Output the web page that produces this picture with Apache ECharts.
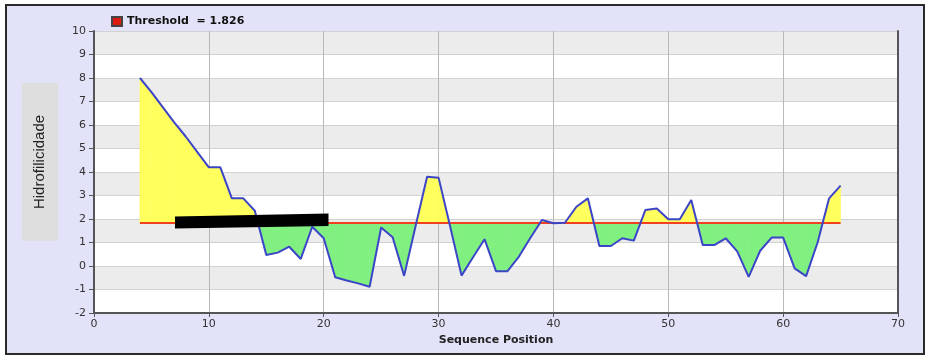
<!DOCTYPE html>
<html>
<head>
<meta charset="utf-8">
<script src="https://cdn.jsdelivr.net/npm/echarts@6/dist/echarts.min.js"></script>
<style>
  html, body { margin: 0; padding: 0; background: #ffffff; }
  #chart { width: 927px; height: 358px; }
</style>
</head>
<body>
<div id="chart"></div>
<script>
// Sequence positions and hydrophilicity profile
const positions = [4,5,6,7,8,9,10,11,12,13,14,15,16,17,18,19,20,21,22,23,24,25,26,27,28,29,30,31,32,33,34,35,36,37,38,39,40,41,42,43,44,45,46,47,48,49,50,51,52,53,54,55,56,57,58,59,60,61,62,63,64,65];
const hydrophilicity = [8.0,7.4,6.75,6.1,5.5,4.85,4.2,4.2,2.88,2.88,2.35,0.47,0.57,0.82,0.30,1.67,1.18,-0.48,-0.62,-0.74,-0.88,1.64,1.22,-0.42,1.7,3.8,3.76,1.7,-0.41,0.37,1.14,-0.22,-0.22,0.4,1.2,1.96,1.82,1.84,2.52,2.88,0.85,0.85,1.18,1.08,2.38,2.45,1.99,1.99,2.81,0.89,0.89,1.18,0.62,-0.46,0.65,1.21,1.21,-0.1,-0.43,1.0,2.88,3.42];
const threshold = 1.826;
const thresholdName = 'Threshold  = 1.826';
const xTicks = [0, 10, 20, 30, 40, 50, 60, 70];
const yTicks = [-2, -1, 0, 1, 2, 3, 4, 5, 6, 7, 8, 9, 10];

const ABOVE_COLOR = '#ffff5e';
const BELOW_COLOR = '#80f080';

const profile = positions.map((p, i) => [p, hydrophilicity[i]]);
const thresholdLine = [[positions[0], threshold], [positions[positions.length - 1], threshold]];
// one item per segment of the profile: [x0, y0, x1, y1]
const segments = positions.slice(1).map((p, i) => [positions[i], hydrophilicity[i], p, hydrophilicity[i + 1]]);

// fill between a profile segment and the threshold, yellow above and green below
function renderSegmentFill(params, api) {
  const x0 = api.value(0), y0 = api.value(1), x1 = api.value(2), y1 = api.value(3);
  const polys = [];
  const pushPoly = (pts, above) => {
    polys.push({
      type: 'polygon',
      shape: { points: pts.map(p => api.coord(p)) },
      style: { fill: above ? ABOVE_COLOR : BELOW_COLOR, stroke: above ? ABOVE_COLOR : BELOW_COLOR, lineWidth: 0.6 }
    });
  };
  const a0 = y0 >= threshold, a1 = y1 >= threshold;
  if (a0 === a1) {
    pushPoly([[x0, threshold], [x0, y0], [x1, y1], [x1, threshold]], a0);
  } else {
    const xc = x0 + (threshold - y0) * (x1 - x0) / (y1 - y0);
    pushPoly([[x0, threshold], [x0, y0], [xc, threshold]], a0);
    pushPoly([[xc, threshold], [x1, y1], [x1, threshold]], a1);
  }
  return { type: 'group', children: polys };
}

const chart = echarts.init(document.getElementById('chart'), null, { renderer: 'canvas' });

const labelFont = { color: '#333', fontFamily: 'DejaVu Sans', fontSize: 11 };

chart.setOption({
  backgroundColor: '#ffffff',
  animation: false,
  graphic: [
    {
      type: 'rect', z: -10, silent: true,
      shape: { x: 6, y: 5, width: 918, height: 349 },
      style: { fill: '#e2e2f8', stroke: '#2a2a2a', lineWidth: 2 }
    },
    {
      type: 'rect', z: 1, silent: true,
      shape: { x: 22, y: 83, width: 36, height: 158 },
      style: { fill: '#dedede' }
    },
    {
      type: 'text', z: 2, silent: true,
      x: 40, y: 162, rotation: Math.PI / 2,
      style: {
        text: 'Hidrofilicidade', fill: '#222',
        font: '15px "Liberation Sans"',
        align: 'center', verticalAlign: 'middle'
      }
    },
    {
      // redaction bar over the threshold
      type: 'polygon', z: 50, silent: true,
      shape: { points: [[175, 216.5], [328.5, 213.5], [328.5, 226], [175, 228.5]] },
      style: { fill: '#000000' }
    }
  ],
  legend: {
    data: [thresholdName],
    left: 106, top: 11,
    icon: 'rect', itemWidth: 10, itemHeight: 9, itemGap: 6,
    textStyle: { color: '#111', fontFamily: 'DejaVu Sans', fontSize: 11, fontWeight: 'bold' }
  },
  grid: { left: 94, right: 29, top: 31, bottom: 45, show: true, backgroundColor: '#ffffff', borderWidth: 0 },
  xAxis: {
    type: 'value', min: xTicks[0], max: xTicks[xTicks.length - 1], interval: 10,
    name: 'Sequence Position', nameLocation: 'middle', nameGap: 22,
    nameTextStyle: { color: '#222', fontFamily: 'DejaVu Sans', fontSize: 11, fontWeight: 'bold' },
    axisLine: { show: true, onZero: false, lineStyle: { color: '#555', width: 2 } },
    axisTick: { show: true, length: 4, lineStyle: { color: '#555' } },
    axisLabel: Object.assign({ margin: 6 }, labelFont),
    splitLine: { show: true, lineStyle: { color: '#b8b8b8', width: 1 } }
  },
  yAxis: [
    {
      type: 'value', min: yTicks[0], max: yTicks[yTicks.length - 1], interval: 1,
      axisLine: { show: true, onZero: false, lineStyle: { color: '#555', width: 2 } },
      axisTick: { show: true, length: 5, lineStyle: { color: '#555' } },
      axisLabel: Object.assign({ margin: 8 }, labelFont),
      splitLine: { show: true, lineStyle: { color: '#d2d2d2', width: 1 } },
      splitArea: { show: true, areaStyle: { color: ['#ffffff', '#ececec'] } }
    },
    {
      type: 'value', min: yTicks[0], max: yTicks[yTicks.length - 1], interval: 1, position: 'right',
      axisLine: { show: true, onZero: false, lineStyle: { color: '#555', width: 2 } },
      axisTick: { show: false }, axisLabel: { show: false }, splitLine: { show: false }
    }
  ],
  series: [
    {
      type: 'custom', data: segments, silent: true, z: 2,
      encode: { x: [0, 2], y: [1, 3] },
      renderItem: renderSegmentFill
    },
    {
      name: thresholdName,
      type: 'line', data: thresholdLine, showSymbol: false, silent: true, z: 3,
      itemStyle: { color: '#dd1a10', borderColor: '#444', borderWidth: 1 },
      lineStyle: { color: '#f04020', width: 2 }
    },
    {
      type: 'line', data: profile, showSymbol: false, silent: true, z: 4,
      lineStyle: { color: '#3c45c8', width: 2 }
    }
  ]
});
</script>
</body>
</html>
